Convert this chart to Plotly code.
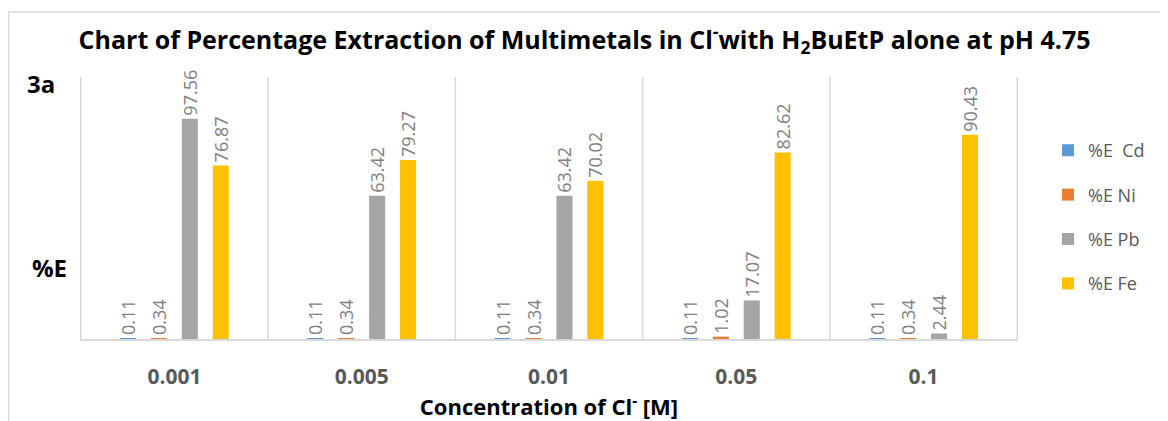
import plotly.graph_objects as go

concentrations = ['0.001', '0.005', '0.01', '0.05', '0.1']
series_names = ['%E  Cd', '%E Ni', '%E Pb', '%E Fe']
cd_values = [0.11, 0.11, 0.11, 0.11, 0.11]
ni_values = [0.34, 0.34, 0.34, 1.02, 0.34]
pb_values = [97.56, 63.42, 63.42, 17.07, 2.44]
fe_values = [76.87, 79.27, 70.02, 82.62, 90.43]
colors = ['#5B9BD5', '#ED7D31', '#A5A5A5', '#FFC000']

FONT = 'Open Sans'
fig = go.Figure()
for i, (name, vals) in enumerate(zip(series_names, [cd_values, ni_values, pb_values, fe_values])):
    fig.add_trace(go.Bar(
        x=concentrations, y=vals, name=name, legendgroup=str(i),
        marker=dict(color=colors[i], line_width=0),
        text=[f'{v:.2f}' for v in vals], textposition='outside', textangle=-90,
        constraintext='none',
        textfont=dict(family=FONT, size=18, color='#808080'),
        cliponaxis=False,
    ))

# category separators, Excel-style
shapes = []
for k in range(len(concentrations) + 1):
    shapes.append(dict(type='line', xref='x', yref='paper', x0=k - 0.5, x1=k - 0.5,
                       y0=0, y1=1, line=dict(color='#D9D9D9', width=1.5)))
# outer chart frame
shapes.append(dict(type='rect', xref='paper', yref='paper', x0=-0.0762, x1=1.3,
                   y0=-0.5, y1=1.248, line=dict(color='#D9D9D9', width=1.5)))

# page body adds 8px margin, so the figure is 8px smaller and shifted
fig.update_layout(
    width=1160, height=413,
    margin=dict(l=72, r=150, t=69, b=78),
    paper_bgcolor='white', plot_bgcolor='white',
    barmode='group', bargap=0.34, bargroupgap=0.48,
    title=dict(text='Chart of Percentage Extraction of Multimetals in Cl<sup>-</sup>with H<sub>2</sub>BuEtP alone at pH 4.75',
               x=0.497, xanchor='center', xref='container', y=0.9225, yanchor='middle',
               font=dict(family=FONT, size=25, color='black', weight='bold')),
    xaxis=dict(showgrid=False, showline=True, linecolor='#D9D9D9', linewidth=1.5,
               ticks='outside', ticklen=18, tickcolor='rgba(0,0,0,0)',
               tickfont=dict(family=FONT, size=21, color='#595959', weight='bold'),
               title=dict(text='Concentration of Cl<sup>-</sup> [M]', standoff=4,
                          font=dict(family=FONT, size=22, color='black', weight='bold'))),
    yaxis=dict(range=[0, 116], showgrid=False, showticklabels=False, zeroline=False,
               showline=False, ticks=''),
    legend=dict(x=1.032, y=0.79, xanchor='left', yanchor='top', tracegroupgap=18,
                font=dict(family=FONT, size=18, color='#595959'), itemwidth=30),
    shapes=shapes,
    annotations=[
        dict(text='3a', xref='paper', yref='paper', x=-0.0416, y=0.977, xanchor='center',
             yanchor='middle', showarrow=False,
             font=dict(family=FONT, size=24, color='black', weight='bold')),
        dict(text='%E', xref='paper', yref='paper', x=-0.032, y=0.274, xanchor='center',
             yanchor='middle', showarrow=False,
             font=dict(family=FONT, size=24, color='black', weight='bold')),
    ],
    showlegend=True,
)

fig.write_html('out.html')
